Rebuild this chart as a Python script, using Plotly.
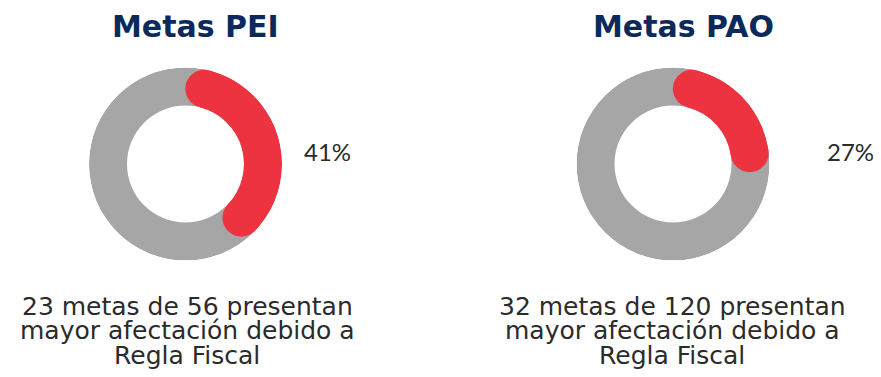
import math
import plotly.graph_objects as go

# Goals affected by the fiscal rule, per plan
plans = ["Metas PEI", "Metas PAO"]
affected = [23, 32]
total = [56, 120]

W, H = 881, 377
RED = "#EE3340"
GRAY = "#A6A6A6"
NAVY = "#0B2A5B"
TEXT = "#2B2B2B"

# donut geometry (pixels)
centers_x = [185.5, 673]
center_y = 164
r_out = 96.5
r_in = 58.5
r_mid = (r_out + r_in) / 2
thick = r_out - r_in
# angle taken by a rounded end so the arc stays inside its sweep
cap_deg = math.degrees((thick / 2) / r_mid)

title_x = [195, 683.5]
pct_x = [327.5, 850]
caption_x = [187, 672]
caption_y = [306, 330, 355]

fig = go.Figure()

for i, (name, a, t) in enumerate(zip(plans, affected, total)):
    polar = "polar" if i == 0 else f"polar{i + 1}"
    share = a / t
    sweep = share * 360
    start, end = cap_deg, sweep - cap_deg

    # full grey ring
    fig.add_trace(go.Barpolar(
        r=[thick], base=[r_in], theta=[180], width=[360],
        marker=dict(color=GRAY, line=dict(width=0)),
        subplot=polar, hoverinfo="skip", showlegend=False))
    # red share arc (between the two rounded ends)
    fig.add_trace(go.Barpolar(
        r=[thick], base=[r_in], theta=[(start + end) / 2], width=[end - start],
        marker=dict(color=RED, line=dict(width=0)),
        subplot=polar, hoverinfo="skip", showlegend=False))
    # rounded ends of the red arc
    fig.add_trace(go.Scatterpolar(
        r=[r_mid, r_mid], theta=[start, end], mode="markers",
        marker=dict(color=RED, size=thick, line=dict(width=0)),
        subplot=polar, hoverinfo="skip", showlegend=False))

    cx = centers_x[i]
    yb = H - center_y
    fig.update_layout(**{polar: dict(
        domain=dict(x=[(cx - r_out) / W, (cx + r_out) / W],
                    y=[(yb - r_out) / H, (yb + r_out) / H]),
        bgcolor="rgba(0,0,0,0)",
        radialaxis=dict(range=[0, r_out], visible=False, showgrid=False),
        angularaxis=dict(rotation=90, direction="clockwise", visible=False,
                         showgrid=False),
        barmode="overlay",
    )})

    # title
    fig.add_annotation(
        text=f"<b>{name}</b>", x=title_x[i] / W, y=1 - 26 / H,
        xref="paper", yref="paper", xanchor="center", yanchor="middle",
        showarrow=False, font=dict(family="DejaVu Sans", size=30, color=NAVY))
    # percentage
    fig.add_annotation(
        text=f"{round(share * 100)}%", x=pct_x[i] / W, y=1 - 151 / H,
        xref="paper", yref="paper", xanchor="center", yanchor="middle",
        showarrow=False, font=dict(family="Lato", size=24, color=TEXT))
    # caption, one line per annotation
    lines = [f"{a} metas de {t} presentan", "mayor afectación debido a",
             "Regla Fiscal"]
    for line, ly in zip(lines, caption_y):
        fig.add_annotation(
            text=line, x=caption_x[i] / W, y=1 - ly / H,
            xref="paper", yref="paper", xanchor="center", yanchor="middle",
            showarrow=False,
            font=dict(family="DejaVu Sans", size=25, color=TEXT))

fig.update_layout(
    width=W, height=H,
    margin=dict(l=0, r=0, t=0, b=0),
    paper_bgcolor="white", plot_bgcolor="white",
    showlegend=False,
)

fig.write_html("out.html")
